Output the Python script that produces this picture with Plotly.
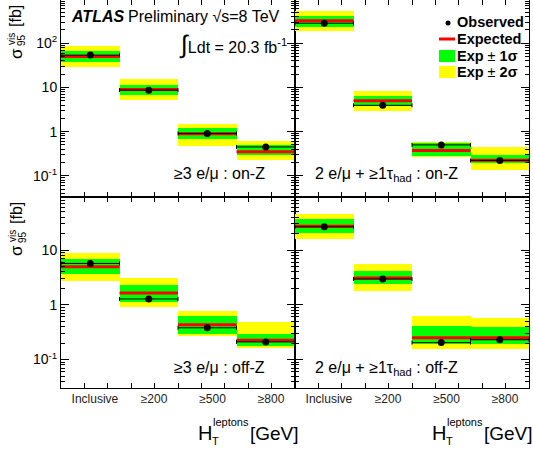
import plotly.graph_objects as go

# ---------------- data ----------------
categories = ["Inclusive", "≥200", "≥500", "≥800"]
bin_centers = [0.5, 1.5, 2.5, 3.5]

# top-left: >=3 e/mu : on-Z
tl_obs = [54, 8.7, 0.91, 0.45]
tl_exp = [50, 9.0, 0.90, 0.35]
tl_s1_lo = [37.7, 6.8, 0.67, 0.29]
tl_s1_hi = [68, 11.5, 1.22, 0.50]
tl_s2_lo = [29, 5.3, 0.47, 0.23]
tl_s2_hi = [87, 15.3, 1.48, 0.60]

# top-right: 2 e/mu + >=1 tau_had : on-Z
tr_obs = [284, 3.94, 0.50, 0.223]
tr_exp = [325, 5.0, 0.376, 0.225]
tr_s1_lo = [234, 3.8, 0.28, 0.19]
tr_s1_hi = [416, 6.5, 0.55, 0.294]
tr_s2_lo = [190, 2.9, 0.26, 0.137]
tr_s2_hi = [540, 8.4, 0.59, 0.44]

# bottom-left: >=3 e/mu : off-Z
bl_obs = [5.7, 1.28, 0.38, 0.21]
bl_exp = [4.97, 1.64, 0.43, 0.226]
bl_s1_lo = [3.6, 1.13, 0.29, 0.18]
bl_s1_hi = [6.8, 2.3, 0.62, 0.29]
bl_s2_lo = [2.75, 0.92, 0.27, 0.16]
bl_s2_hi = [8.8, 3.05, 0.77, 0.49]

# bottom-right: 2 e/mu + >=1 tau_had : off-Z
br_obs = [26.6, 2.96, 0.204, 0.23]
br_exp = [27.4, 3.1, 0.25, 0.25]
br_s1_lo = [20.7, 2.37, 0.196, 0.193]
br_s1_hi = [36.3, 4.1, 0.41, 0.40]
br_s2_lo = [16, 1.77, 0.158, 0.155]
br_s2_hi = [45, 5.5, 0.62, 0.58]

panel_labels = [
    "≥3 e/μ : on-Z",
    "2 e/μ + ≥1τ<sub>had</sub> : on-Z",
    "≥3 e/μ : off-Z",
    "2 e/μ + ≥1τ<sub>had</sub> : off-Z",
]

YELLOW = "#FFFF00"
GREEN = "#00FF00"
RED = "#FF0000"
FONT = "Liberation Sans, Arial, Helvetica, sans-serif"

W, H = 533, 449
ML, MR, MT, MB = 61, 4, 0, 61
PW = W - ML - MR
PH = H - MT - MB


def px_x(px):
    return (px - ML) / PW


def px_y(py):
    return (H - MB - py) / PH


fig = go.Figure()

panels = [
    ("x", "y", tl_obs, tl_exp, tl_s1_lo, tl_s1_hi, tl_s2_lo, tl_s2_hi),
    ("x2", "y2", tr_obs, tr_exp, tr_s1_lo, tr_s1_hi, tr_s2_lo, tr_s2_hi),
    ("x3", "y3", bl_obs, bl_exp, bl_s1_lo, bl_s1_hi, bl_s2_lo, bl_s2_hi),
    ("x4", "y4", br_obs, br_exp, br_s1_lo, br_s1_hi, br_s2_lo, br_s2_hi),
]

for xa, ya, obs, exp, s1lo, s1hi, s2lo, s2hi in panels:
    fig.add_trace(go.Bar(x=bin_centers, y=[h - l for h, l in zip(s2hi, s2lo)], base=s2lo,
                         width=1, marker=dict(color=YELLOW, line=dict(width=0)),
                         xaxis=xa, yaxis=ya, showlegend=False, hoverinfo="skip"))
    fig.add_trace(go.Bar(x=bin_centers, y=[h - l for h, l in zip(s1hi, s1lo)], base=s1lo,
                         width=1, marker=dict(color=GREEN, line=dict(width=0)),
                         xaxis=xa, yaxis=ya, showlegend=False, hoverinfo="skip"))
    fig.add_trace(go.Scatter(x=bin_centers, y=exp, mode="markers",
                             marker=dict(size=1, color=RED, opacity=0),
                             error_x=dict(type="constant", value=0.5, color=RED,
                                          thickness=3, width=0),
                             xaxis=xa, yaxis=ya, showlegend=False))
    fig.add_trace(go.Scatter(x=bin_centers, y=obs, mode="markers",
                             marker=dict(size=7, color="black"),
                             error_x=dict(type="constant", value=0.5, color="black",
                                          thickness=1, width=2),
                             xaxis=xa, yaxis=ya, showlegend=False))

minor_x = [0.4 * i for i in range(1, 10)]
label_pos = [0.58, 1.59, 2.59, 3.59]


def minor_logs(lo, hi):
    vals = []
    for e in range(lo, hi + 1):
        for m in range(2, 10):
            vals.append(m * 10 ** e)
    return vals


xcommon = dict(range=[0, 4], showline=True, linecolor="black", linewidth=1,
               mirror="allticks", ticks="", showgrid=False, zeroline=False,
               tickvals=label_pos, ticktext=categories,
               tickfont=dict(family=FONT, size=12, color="#222"),
               minor=dict(tickmode="array", tickvals=minor_x, ticks="inside",
                          ticklen=5, tickcolor="black", tickwidth=1, showgrid=False))

ycommon = dict(type="log", showline=True, linecolor="black", linewidth=1,
               mirror="allticks", ticks="inside", ticklen=8, tickcolor="black",
               showgrid=False, zeroline=False,
               tickvals=[0.1, 1, 10, 100],
               ticktext=["10<sup>-1</sup>", "1", "10", "10<sup>2</sup>"],
               tickfont=dict(family=FONT, size=14, color="black"),
               minor=dict(tickmode="array", tickvals=minor_logs(-2, 3), ticks="inside",
                          ticklen=4, tickcolor="black", tickwidth=1, showgrid=False))

split = 191 / PH
top_range = [-1.48, 2.98]
bot_range = [-1.52, 1.97]

fig.update_layout(
    width=W, height=H,
    margin=dict(l=ML, r=MR, t=MT, b=MB),
    paper_bgcolor="white", plot_bgcolor="white",
    barmode="overlay", bargap=0,
    showlegend=False,
    font=dict(family=FONT, color="black"),
    xaxis=dict(xcommon, domain=[0, 0.5], anchor="y", showticklabels=False),
    xaxis2=dict(xcommon, domain=[0.5, 1], anchor="y2", showticklabels=False),
    xaxis3=dict(xcommon, domain=[0, 0.5], anchor="y3"),
    xaxis4=dict(xcommon, domain=[0.5, 1], anchor="y4"),
    yaxis=dict(ycommon, domain=[split, 1], range=top_range, anchor="x"),
    yaxis2=dict(ycommon, domain=[split, 1], range=top_range, anchor="x2", showticklabels=False),
    yaxis3=dict(ycommon, domain=[0, split], range=bot_range, anchor="x3"),
    yaxis4=dict(ycommon, domain=[0, split], range=bot_range, anchor="x4", showticklabels=False),
)

ann = []


def text(px, py, s, size, xanchor="left", yanchor="middle", angle=0, color="black"):
    ann.append(dict(x=px_x(px), y=px_y(py), xref="paper", yref="paper", text=s,
                    showarrow=False, xanchor=xanchor, yanchor=yanchor, textangle=angle,
                    borderpad=0,
                    font=dict(family=FONT, size=size, color=color)))


# ATLAS label
text(70, 17, "<b><i>ATLAS</i></b>", 16)
text(127, 17, "Preliminary √s=8 TeV", 16)
text(178, 44, "<span style='font-size:25px'>∫</span>Ldt = 20.3 fb<sup>-1</sup>", 16)

# panel labels
text(219, 174, panel_labels[0], 16, xanchor="center")
text(386, 175, panel_labels[1], 16, xanchor="center")
text(219, 367, panel_labels[2], 16, xanchor="center")
text(386, 368, panel_labels[3], 16, xanchor="center")

# legend (drawn manually)
text(456, 22, "<b>Observed</b>", 14.5)
text(456, 39, "<b>Expected</b>", 14.5)
text(456, 56, "<b>Exp</b> ± <b>1σ</b>", 14.5)
text(456, 72, "<b>Exp</b> ± <b>2σ</b>", 14.5)

shapes = [
    dict(type="circle", xref="paper", yref="paper", x0=px_x(445.5), x1=px_x(450.5),
         y0=px_y(25.5), y1=px_y(20.5), fillcolor="black", line=dict(width=0)),
    dict(type="line", xref="paper", yref="paper", x0=px_x(439), x1=px_x(455),
         y0=px_y(39), y1=px_y(39), line=dict(color=RED, width=3)),
    dict(type="rect", xref="paper", yref="paper", x0=px_x(439), x1=px_x(455),
         y0=px_y(62), y1=px_y(50), fillcolor=GREEN, line=dict(width=0)),
    dict(type="rect", xref="paper", yref="paper", x0=px_x(439), x1=px_x(455),
         y0=px_y(78), y1=px_y(66), fillcolor=YELLOW, line=dict(width=0)),
]

# y axis titles (sigma_95^vis [fb]) rotated
for top in (0, 197):
    text(17, top + 54, "σ", 17, xanchor="center", yanchor="middle", angle=-90)
    text(12, top + 39, "vis", 10, xanchor="center", yanchor="middle", angle=-90)
    text(22, top + 40, "95", 10, xanchor="center", yanchor="middle", angle=-90)
    text(16, top + 16, "[fb]", 16, xanchor="center", yanchor="middle", angle=-90)

# x axis titles
for right in (295, 529):
    text(right - 46, 433, "[GeV]", 19, xanchor="left")
    text(right - 98, 433, "H", 20, xanchor="left")
    text(right - 83, 422, "leptons", 11, xanchor="left")
    text(right - 84, 441, "T", 11, xanchor="left")

fig.update_layout(annotations=ann, shapes=shapes)

fig.write_html("out.html", config={"displayModeBar": False},
               post_script="document.body.style.margin='0px';")
